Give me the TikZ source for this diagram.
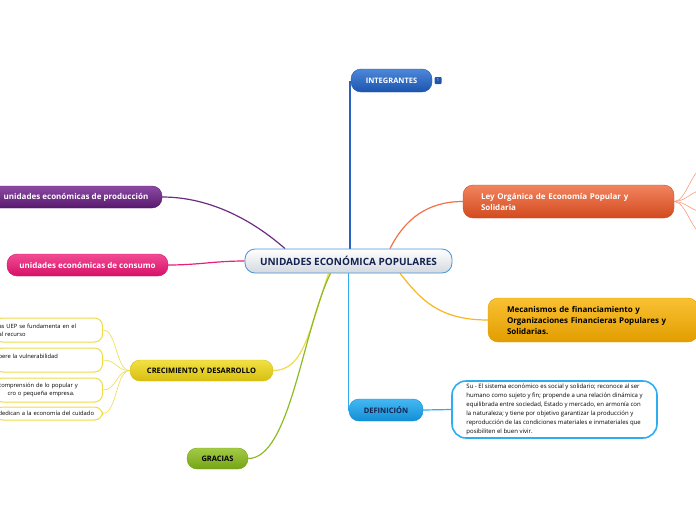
\documentclass[tikz,border=0pt]{standalone}
\usepackage{fontspec}
\setmainfont{Open Sans}
\usetikzlibrary{backgrounds}
\definecolor{cenblue}{HTML}{4A92D8}
\definecolor{cengray}{HTML}{D3D9E0}
\definecolor{navy}{HTML}{14234F}
\definecolor{integtop}{HTML}{4C88DA}
\definecolor{integbot}{HTML}{1C54AE}
\definecolor{integline}{HTML}{2A62C0}
\definecolor{leytop}{HTML}{F2845F}
\definecolor{leybot}{HTML}{D24A1E}
\definecolor{leyline}{HTML}{F27244}
\definecolor{mectop}{HTML}{F9C133}
\definecolor{mecbot}{HTML}{E29D00}
\definecolor{mecline}{HTML}{F8B720}
\definecolor{deftop}{HTML}{45B8F2}
\definecolor{defbot}{HTML}{128ED6}
\definecolor{defline}{HTML}{2EAEF0}
\definecolor{crectop}{HTML}{F2E145}
\definecolor{crecbot}{HTML}{D7BE10}
\definecolor{crecline}{HTML}{EEDC4A}
\definecolor{gractop}{HTML}{A3CB45}
\definecolor{gracbot}{HTML}{74A416}
\definecolor{gracline}{HTML}{8CBC22}
\definecolor{prodtop}{HTML}{8C4BA3}
\definecolor{prodbot}{HTML}{57196E}
\definecolor{prodline}{HTML}{6A2D80}
\definecolor{constop}{HTML}{F24C94}
\definecolor{consbot}{HTML}{D60F68}
\definecolor{consline}{HTML}{E8207A}
\begin{document}
\begin{tikzpicture}[x=1pt, y=-1pt, line join=round, line cap=round,
	topic/.style={rounded corners=10pt, inner sep=0pt, align=center, font=\bfseries\fontsize{7.5}{10}\selectfont},
	leafbox/.style={anchor=east, draw=crecline, line width=1pt, fill=white, rounded corners=8pt, text width=100pt, inner xsep=4pt, inner ysep=0pt, align=left, font=\fontsize{5.8}{8}\selectfont},
	branch/.style={line width=1.2pt},
	twig/.style={line width=0.6pt}]
	\useasboundingbox (0,0) rectangle (696,520);
	\clip (0,0) rectangle (696,520);
	% centro
	\node[topic, minimum width=207pt, minimum height=24pt, top color=white, bottom color=cengray, draw=cenblue, line width=0.8pt, text=navy, font=\bfseries\fontsize{10}{12}\selectfont] (cen) at (348.5,261) {UNIDADES ECONÓMICA POPULARES};
	% ramas
	\node[topic, minimum width=81pt, minimum height=23pt, top color=integtop, bottom color=integbot, draw=integbot, text=white] (integ) at (391.5,80.5) {INTEGRANTES};
	\node[fill=integbot, rounded corners=1pt, minimum size=7pt, inner sep=0pt, text=white, font=\fontsize{4}{4}\selectfont] (integn) at (438,80.5) {1};
	\node[topic, text width=175pt, inner xsep=18pt, minimum height=33pt, align=left, top color=leytop, bottom color=leybot, draw=leybot, text=white, font=\bfseries\fontsize{8}{11}\selectfont] (ley) at (568.5,201.5) {Ley Orgánica de Economía Popular y\\Solidaria};
	\node[topic, text width=172pt, inner xsep=19pt, minimum height=44pt, align=left, top color=mectop, bottom color=mecbot, draw=mecbot, text=black, font=\bfseries\fontsize{8}{11}\selectfont] (mec) at (593,320) {Mecanismos de financiamiento y\\Organizaciones Financieras Populares y\\Solidarias.};
	\node[topic, minimum width=74pt, minimum height=22pt, top color=deftop, bottom color=defbot, draw=defbot, text=navy] (defn) at (386,410) {DEFINICIÓN};
	\node[draw=defline, line width=1.6pt, fill=white, rounded corners=14pt, minimum width=205pt, inner sep=0pt, minimum height=57pt, align=left, font=\fontsize{6}{9}\selectfont] (deftxt) at (554.5,409.5) {Su - El sistema económico es social y solidario; reconoce al ser\\humano como sujeto y fin; propende a una relación dinámica y\\equilibrada entre sociedad, Estado y mercado, en armonía con\\la naturaleza; y tiene por objetivo garantizar la producción y\\reproducción de las condiciones materiales e inmateriales que\\posibiliten el buen vivir.};
	\node[topic, minimum width=143pt, minimum height=21pt, top color=crectop, bottom color=crecbot, draw=crecbot, text=black] (crec) at (201.5,370.5) {CRECIMIENTO Y DESARROLLO};
	\node[topic, minimum width=61pt, minimum height=21pt, top color=gractop, bottom color=gracbot, draw=gracbot, text=black] (grac) at (217.5,458.5) {GRACIAS};
	\node[topic, minimum width=172pt, minimum height=22pt, top color=prodtop, bottom color=prodbot, draw=prodbot, text=white, font=\bfseries\fontsize{8}{10}\selectfont] (prod) at (76,197) {unidades económicas de producción};
	\node[topic, minimum width=161pt, minimum height=22pt, top color=constop, bottom color=consbot, draw=consbot, text=white, font=\bfseries\fontsize{8}{10}\selectfont] (cons) at (87.5,265) {unidades económicas de consumo};
	% hojas de crecimiento
	\node[leafbox, minimum height=24pt] (hoja1) at (103,330) {as UEP se fundamenta en el\\al recurso};
	\node[leafbox, minimum height=24pt] (hoja2) at (103,360) {pere la vulnerabilidad\\\mbox{}};
	\node[leafbox, minimum height=24pt] (hoja3) at (103,390) {comprensión de lo popular y\\\hspace*{9pt}cro o pequeña empresa.};
	\node[leafbox, minimum height=13pt] (hoja4) at (103,413.5) {dedican a la economía del cuidado};
	% hojas de la ley (fuera del cuadro)
	\coordinate (ley1) at (704,168);
	\coordinate (ley2) at (704,190);
	\coordinate (ley3) at (704,212);
	\coordinate (ley4) at (704,234);
	\begin{pgfonlayer}{background}
		\draw[branch, integline, line width=1.5pt] ([xshift=1.5pt]cen.north) -- ([xshift=1.5pt]cen.north |- integ.west);
		\draw[branch, defline, line width=1.5pt] (cen.south) |- (defn.west);
		\draw[branch, defline] (defn.east) -- (deftxt.west);
		\draw[branch, leyline] ([xshift=41.5pt]cen.north) .. controls +(15,-30) and +(-35,0) .. (ley.west);
		\draw[branch, mecline] ([xshift=51.5pt]cen.south) .. controls +(20,25) and +(-50,0) .. (mec.west);
		\draw[branch, prodline] ([xshift=-63.5pt]cen.north) .. controls +(-40,-35) and +(40,0) .. (prod.east);
		\draw[branch, consline] (cen.west) .. controls +(-30,0) and +(30,0) .. (cons.east);
		\draw[branch, crecline] ([xshift=-20pt]cen.south) .. controls +(-20,60) and +(30,0) .. (crec.east);
		\draw[branch, gracline] ([xshift=-18pt]cen.south) .. controls +(-28,57) and +(42,0) .. (grac.east);
		\foreach \h in {1,...,4}{
			\draw[twig, crecline] (crec.west) .. controls +(-14,0) and +(14,0) .. (hoja\h.east);
			\draw[twig, leyline!70] (ley.east) .. controls +(12,0) and +(-12,0) .. (ley\h);
		}
	\end{pgfonlayer}
\end{tikzpicture}
\end{document}
